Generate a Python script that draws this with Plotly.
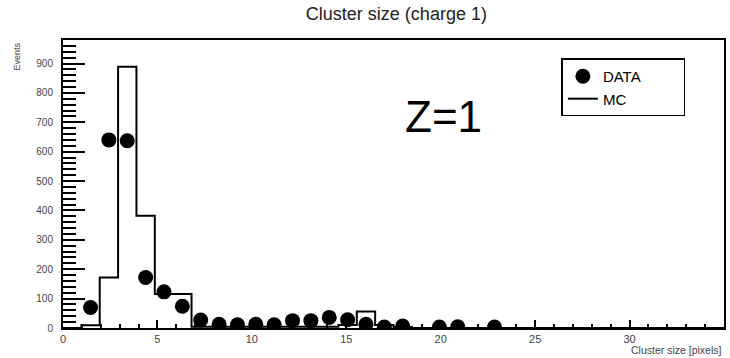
import numpy as np
import plotly.graph_objects as go

# Histogram binning: 36 bins spanning 0-35 pixels
n_bins = 36
x_min, x_max = 0.0, 35.0

# Measured cluster sizes (DATA), bin contents per bin index; None = empty bin
data_counts = [None, 70, 640, 637, 172, 123, 74, 27, 13, 11, 13, 11, 25, 25,
               36, 28, 13, 3, 7, None, 3, 4, None, 3,
               None, None, None, None, None, None, None, None, None, None, None, None]

# Simulated cluster sizes (MC), bin contents per bin index
mc_counts = [0, 9, 172, 889, 382, 116, 116, 4, 4, 4, 4, 4, 4, 4,
             4, 10, 56, 10, 3, 0, 0, 0, 0, 0,
             0, 0, 0, 0, 0, 0, 0, 0, 0, 0, 0, 0]

y_tick_vals = [0, 100, 200, 300, 400, 500, 600, 700, 800, 900]
x_tick_vals = [0, 5, 10, 15, 20, 25, 30, 35]

edges = np.linspace(x_min, x_max, n_bins + 1)
centers = 0.5 * (edges[:-1] + edges[1:])

font_family = "Liberation Sans, Arial, Helvetica, sans-serif"
pad = "\u00a0" * 9  # widens the legend box

fig = go.Figure()

# MC as a step outline
fig.add_trace(go.Scatter(
    x=list(edges),
    y=list(mc_counts) + [0],
    mode="lines",
    line=dict(color="black", width=2, shape="hv"),
    name="MC" + pad,
    legendgroup="mc",
    legendrank=2,
))

# DATA as filled circular markers at bin centres
dx = [c for c, v in zip(centers, data_counts) if v is not None]
dy = [v for v in data_counts if v is not None]
fig.add_trace(go.Scatter(
    x=dx,
    y=dy,
    mode="markers",
    marker=dict(color="black", size=15, symbol="circle"),
    name="DATA" + pad,
    legendgroup="data",
    legendrank=1,
))

fig.update_layout(
    width=730,
    height=358,
    margin=dict(l=63, r=4, t=40, b=30),
    paper_bgcolor="white",
    plot_bgcolor="white",
    font=dict(family=font_family, color="black"),
    title=dict(
        text="Cluster size (charge 1)",
        x=0.543, xref="container", xanchor="center",
        y=0.963, yref="container", yanchor="middle",
        font=dict(size=18, color="#222222", family=font_family),
    ),
    showlegend=True,
    legend=dict(
        x=0.754, y=0.936, xanchor="left", yanchor="top",
        bgcolor="white", bordercolor="black", borderwidth=1.5,
        font=dict(size=15, color="black", family=font_family),
        traceorder="grouped", tracegroupgap=0,
    ),
    xaxis=dict(
        range=[x_min, x_max],
        tickvals=x_tick_vals,
        ticks="inside", ticklen=8, tickwidth=1.5, tickcolor="black",
        minor=dict(ticks="inside", ticklen=4, tickwidth=1.5, dtick=1,
                   tick0=0, tickcolor="black", showgrid=False),
        showline=True, linecolor="black", linewidth=2, mirror=True,
        showgrid=False, zeroline=False,
        ticklabelstandoff=0,
        tickfont=dict(size=11, color="#444444", family=font_family),
    ),
    yaxis=dict(
        range=[0, 980],
        tickvals=y_tick_vals,
        ticks="inside", ticklen=22, tickwidth=1.8, tickcolor="black",
        minor=dict(ticks="inside", ticklen=13, tickwidth=1.5, dtick=20,
                   tick0=0, tickcolor="black", showgrid=False),
        showline=True, linecolor="black", linewidth=2, mirror=True,
        showgrid=False, zeroline=False,
        ticklabelstandoff=6,
        tickfont=dict(size=10, color="#444444", family=font_family),
    ),
    annotations=[
        dict(text="Z=1", x=0.575, y=0.734, xref="paper", yref="paper",
             xanchor="center", yanchor="middle", showarrow=False,
             font=dict(size=44, color="black", family=font_family)),
        dict(text="Events", x=-0.069, y=1.0, xref="paper", yref="paper",
             xanchor="center", yanchor="top", textangle=-90, showarrow=False,
             font=dict(size=9, color="#444444", family=font_family)),
        dict(text="Cluster size [pixels]", x=1.0, y=-0.075, xref="paper", yref="paper",
             xanchor="right", yanchor="middle", showarrow=False,
             font=dict(size=10.5, color="#444444", family=font_family)),
    ],
)

fig.write_html("out.html")
